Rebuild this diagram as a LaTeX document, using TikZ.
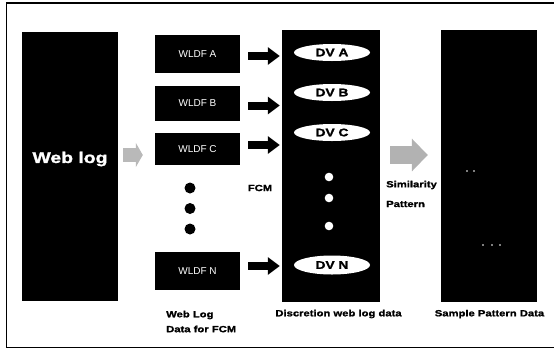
\documentclass[tikz,border=0pt]{standalone}
\usepackage{fontspec}
\setmainfont{Liberation Sans}
\newfontfamily\heavy[FakeStretch=1.25,FakeBold=1.5]{Liberation Sans}
\usetikzlibrary{arrows.meta,shapes.geometric}

\begin{document}
\begin{tikzpicture}[x=1pt,y=-1pt,
  blackbox/.style={fill=black, draw=none, inner sep=0pt},
  wldfbox/.style={blackbox, minimum width=85pt, text=white,
                  font=\fontsize{10}{11}\selectfont},
  dvoval/.style={ellipse, fill=white, draw=none, inner sep=0pt,
                 minimum width=76pt, minimum height=17pt,
                 font=\heavy\bfseries\fontsize{11}{12}\selectfont},
  caption/.style={inner sep=0pt, font=\heavy\bfseries\fontsize{9}{10}\selectfont},
  blackdot/.style={circle, fill=black, inner sep=0pt, minimum size=11pt},
  whitedot/.style={circle, fill=white, inner sep=0pt, minimum size=8.6pt},
  speck/.style={circle, fill=white, inner sep=0pt, minimum size=1.6pt},
  blockarrow/.style={draw=black, line width=8pt,
                     -{Triangle[width=17pt,length=12pt]}},
  greyarrow/.style={draw=gray!55, line width=14pt,
                    -{Triangle[width=24pt,length=7pt]}},
  bigarrow/.style={draw=gray!60, line width=18pt,
                   -{Triangle[width=32pt,length=16pt]}}
]
\useasboundingbox (0,0) rectangle (554,349);

% outer frame (open on the right)
\draw[line width=1.2pt] (554,3) -- (6.5,3) -- (6.5,347.5) -- (554,347.5);

% raw web log
\node[blackbox, minimum width=96pt, minimum height=269pt] (weblog) at (70,166.5) {};
\node[inner sep=0pt, text=white, font=\heavy\bfseries\fontsize{15.5}{17}\selectfont]
  (weblogtxt) at (70,159) {Web log};

% web log data for FCM
\node[wldfbox, minimum height=38pt] (wA) at (197.5,54)  {WLDF A};
\node[wldfbox, minimum height=35pt] (wB) at (197.5,103.5) {WLDF B};
\node[wldfbox, minimum height=32pt] (wC) at (197.5,149) {WLDF C};
\node[wldfbox, minimum height=38pt] (wN) at (197.5,271) {WLDF N};
\node[blackdot] (b1) at (190,188) {};
\node[blackdot] (b2) at (190,208.5) {};
\node[blackdot] (b3) at (190,229) {};

% discretion web log data
\node[blackbox, minimum width=98pt, minimum height=272pt] (dv) at (331,166) {};
\node[dvoval] (dvA) at (332,52.5)  {DV A};
\node[dvoval] (dvB) at (332,92.5)  {DV B};
\node[dvoval] (dvC) at (332,132.5) {DV C};
\node[dvoval, minimum height=19pt] (dvN) at (332,265) {DV N};
\node[whitedot] (w1) at (329,177) {};
\node[whitedot] (w2) at (329,198) {};
\node[whitedot] (w3) at (329,226) {};

% sample pattern data
\node[blackbox, minimum width=96pt, minimum height=272pt] (sample) at (489,166) {};
\node[speck] (s1) at (467,171) {};
\node[speck] (s2) at (474,171) {};
\node[speck] (s3) at (483,245) {};
\node[speck] (s4) at (492,245) {};
\node[speck] (s5) at (500,245) {};

% connectors
\draw[greyarrow, shorten <=5pt, shorten >=12pt]
  ([yshift=-6pt]weblog.east |- wC.west) -- ([yshift=-6pt]wC.west);
\draw[blockarrow, shorten <=8pt, shorten >=2pt] ([yshift=-2pt]wA.east) -- ([yshift=-2pt]wA.east -| dv.west);
\draw[blockarrow, shorten <=8pt, shorten >=2pt] ([yshift=-2pt]wB.east) -- ([yshift=-2pt]wB.east -| dv.west);
\draw[blockarrow, shorten <=8pt, shorten >=2pt] ([yshift=4pt]wC.east) -- ([yshift=4pt]wC.east -| dv.west);
\draw[blockarrow, shorten <=8pt, shorten >=2pt] ([yshift=5pt]wN.east) -- ([yshift=5pt]wN.east -| dv.west);
\draw[bigarrow, shorten <=10pt, shorten >=13pt]
  ([yshift=11pt]dv.east) -- ([yshift=11pt]sample.west);

% captions
\node[caption] (fcm) at (260,188) {FCM};
\node[caption, anchor=west] (sim) at (386,185) {Similarity};
\node[caption, anchor=west] (pat) at (386,204) {Pattern};
\node[caption, anchor=west] (cap1) at (166,315) {Web Log};
\node[caption, anchor=west] (cap2) at (166,329) {Data for FCM};
\node[caption] (cap3) at (338.5,314) {Discretion web log data};
\node[caption] (cap4) at (489.5,314) {Sample Pattern Data};
\end{tikzpicture}
\end{document}
